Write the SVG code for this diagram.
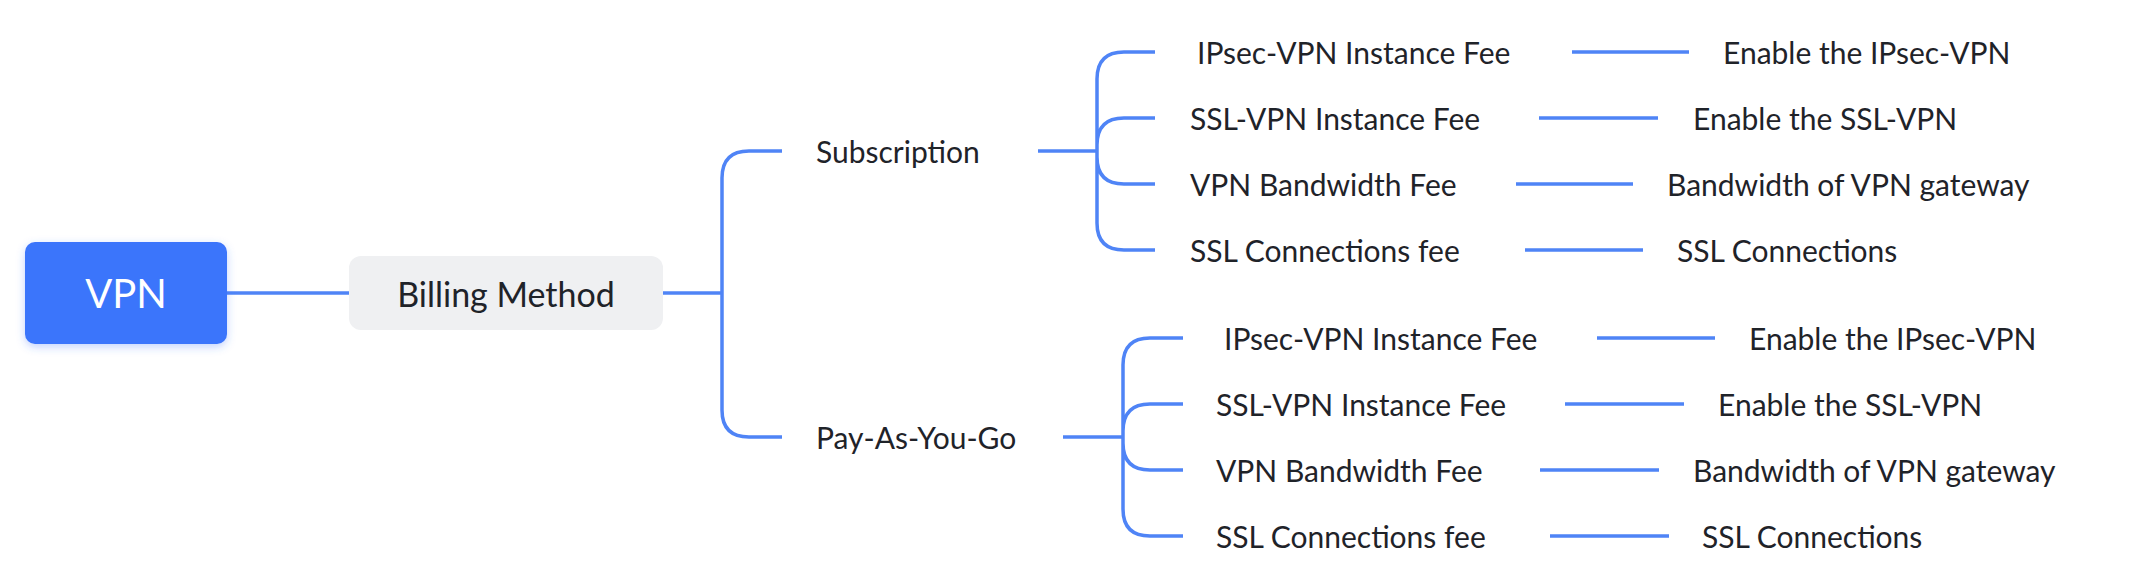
<svg xmlns="http://www.w3.org/2000/svg" width="2148" height="588" viewBox="0 0 2148 588">
<style>
.c{fill:none;stroke:#4f84f6;stroke-width:3.5}
text{font-family:Lato,"Liberation Sans",sans-serif;fill:#1f2329;dominant-baseline:central}
.t{font-size:30px}
</style>
<defs><filter id="sh" x="-20%" y="-20%" width="140%" height="150%"><feDropShadow dx="0" dy="3" stdDeviation="4" flood-color="#3a6ff7" flood-opacity="0.3"/></filter></defs>
<g id="connectors">
<path class="c" d="M227 293H349"/>
<path class="c" d="M663 293H722"/>
<path class="c" d="M782 151H749Q722 151 722 178V410Q722 437 749 437H782"/>
<path class="c" d="M1038 151H1097"/>
<path class="c" d="M1155 52H1124Q1097 52 1097 79V223Q1097 250 1124 250H1155M1155 118H1124Q1097 118 1097 145M1155 184H1124Q1097 184 1097 157"/>
<path class="c" d="M1063 437H1123"/>
<path class="c" d="M1183 338H1150Q1123 338 1123 365V509Q1123 536 1150 536H1183M1183 404H1150Q1123 404 1123 431M1183 470H1150Q1123 470 1123 443"/>
<path class="c" d="M1572 52H1689M1539 118H1658M1516 184H1633M1525 250H1643"/>
<path class="c" d="M1597 338H1715M1565 404H1684M1540 470H1659M1550 536H1669"/>
</g>
<g id="vpn"><rect x="25" y="242" width="202" height="102" rx="10" fill="#3b74fb" filter="url(#sh)"/><text x="126" y="293" font-size="40" text-anchor="middle" style="fill:#fff">VPN</text></g>
<g id="billing"><rect x="349" y="256" width="314" height="74" rx="12" fill="#eff0f2"/><text x="506" y="293" font-size="34" text-anchor="middle">Billing Method</text></g>
<g id="subscription"><text class="t" x="816" y="151">Subscription</text></g>
<g id="payg"><text class="t" x="816" y="437">Pay-As-You-Go</text></g>
<g id="s1"><text class="t" x="1197" y="52">IPsec-VPN Instance Fee</text></g>
<g id="s1d"><text class="t" x="1723" y="52">Enable the IPsec-VPN</text></g>
<g id="s2"><text class="t" x="1190" y="118">SSL-VPN Instance Fee</text></g>
<g id="s2d"><text class="t" x="1693" y="118">Enable the SSL-VPN</text></g>
<g id="s3"><text class="t" x="1190" y="184">VPN Bandwidth Fee</text></g>
<g id="s3d"><text class="t" x="1667" y="184">Bandwidth of VPN gateway</text></g>
<g id="s4"><text class="t" x="1190" y="250">SSL Connections fee</text></g>
<g id="s4d"><text class="t" x="1677" y="250">SSL Connections</text></g>
<g id="p1"><text class="t" x="1224" y="338">IPsec-VPN Instance Fee</text></g>
<g id="p1d"><text class="t" x="1749" y="338">Enable the IPsec-VPN</text></g>
<g id="p2"><text class="t" x="1216" y="404">SSL-VPN Instance Fee</text></g>
<g id="p2d"><text class="t" x="1718" y="404">Enable the SSL-VPN</text></g>
<g id="p3"><text class="t" x="1216" y="470">VPN Bandwidth Fee</text></g>
<g id="p3d"><text class="t" x="1693" y="470">Bandwidth of VPN gateway</text></g>
<g id="p4"><text class="t" x="1216" y="536">SSL Connections fee</text></g>
<g id="p4d"><text class="t" x="1702" y="536">SSL Connections</text></g>
</svg>
